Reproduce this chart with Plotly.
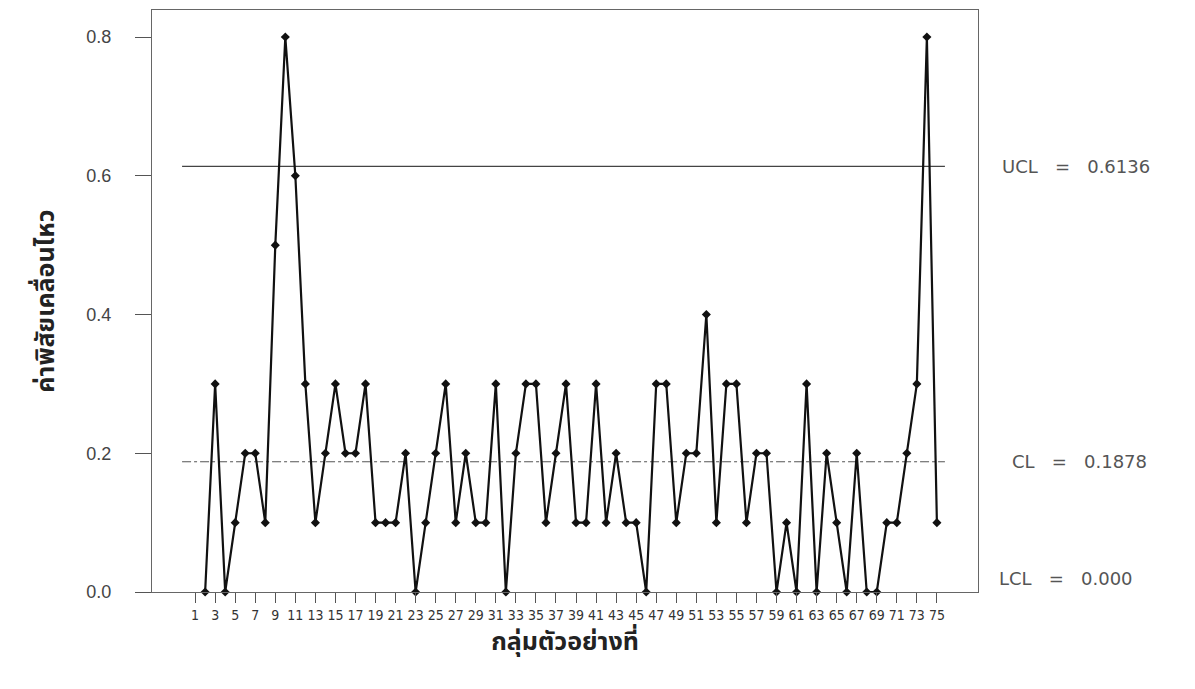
import plotly.graph_objects as go

# Moving range values, subgroups 2..75
samples = list(range(2, 76))
moving_range = [
    0.0, 0.3, 0.0, 0.1, 0.2, 0.2, 0.1, 0.5, 0.8, 0.6, 0.3, 0.1, 0.2, 0.3, 0.2, 0.2,
    0.3, 0.1, 0.1, 0.1, 0.2, 0.0, 0.1, 0.2,
    0.3, 0.1, 0.2, 0.1, 0.1, 0.3, 0.0, 0.2, 0.3, 0.3, 0.1, 0.2, 0.3, 0.1, 0.1, 0.3,
    0.1, 0.2, 0.1, 0.1, 0.0, 0.3, 0.3, 0.1, 0.2, 0.2,
    0.4, 0.1, 0.3, 0.3, 0.1, 0.2, 0.2, 0.0, 0.1, 0.0, 0.3, 0.0, 0.2, 0.1, 0.0, 0.2,
    0.0, 0.0, 0.1, 0.1, 0.2, 0.3, 0.8, 0.1,
]
UCL = 0.6136
CL = 0.1878
LCL = 0.000
line_x = [-0.3, 75.8]
x_ticks = list(range(1, 76, 2))
y_ticks = [0.0, 0.2, 0.4, 0.6, 0.8]

fig = go.Figure()
fig.add_trace(go.Scatter(x=line_x, y=[UCL, UCL], mode="lines",
                         line=dict(color="#444", width=1.2), hoverinfo="skip"))
fig.add_trace(go.Scatter(x=line_x, y=[CL, CL], mode="lines",
                         line=dict(color="#555", width=1.2, dash="dashdot"), hoverinfo="skip"))
fig.add_trace(go.Scatter(x=samples, y=moving_range, mode="lines+markers",
                         line=dict(color="#111", width=2.2),
                         marker=dict(symbol="diamond", size=7, color="#111"),
                         cliponaxis=False))

thai = "Noto Sans Thai, Noto Sans Thai Looped, Loma, Garuda, Tlwg Typo, sans-serif"
ann_font = dict(family="DejaVu Sans, Arial, sans-serif", size=18, color="#555")
labels = [("UCL   =   %.4f" % UCL, UCL, 1.027),
          ("CL   =   %.4f" % CL, CL, 1.039),
          ("LCL   =   %.3f" % LCL, LCL + 0.02, 1.023)]
for txt, yv, xp in labels:
    fig.add_annotation(x=xp, xref="paper", y=yv, yref="y", text=txt,
                       showarrow=False, xanchor="left", font=ann_font)

pad = "<span style='color:rgba(0,0,0,0)'>00</span>"

fig.update_layout(
    width=1195, height=689,
    margin=dict(l=144, r=225, t=2, b=105),
    paper_bgcolor="white", plot_bgcolor="white",
    showlegend=False,
    font=dict(family="Arial, Liberation Sans, sans-serif", color="#333"),
    xaxis=dict(range=[-3.3, 79.1], tickvals=x_ticks, ticktext=[str(v) for v in x_ticks],
               ticks="outside", ticklen=10, tickcolor="#555", tickangle=0,
               tickfont=dict(family="Liberation Sans Narrow, Arial Narrow, DejaVu Sans Condensed, sans-serif",
                             size=14, color="#333"),
               showline=True, linecolor="#666", linewidth=1.2, mirror=True,
               showgrid=False, zeroline=False,
               title=dict(text="<b>กลุ่มตัวอย่างที่</b>", font=dict(family=thai, size=25, color="#222"), standoff=4)),
    yaxis=dict(range=[0, 0.839], tickvals=y_ticks, ticktext=["%.1f%s" % (v, pad) for v in y_ticks],
               ticks="outside", ticklen=16, tickcolor="#555", tickfont=dict(size=18, color="#444"),
               showline=True, linecolor="#666", linewidth=1.2, mirror=True,
               showgrid=False, zeroline=False,
               title=dict(text="<b>ค่าพิสัยเคลื่อนไหว</b>", font=dict(family=thai, size=25, color="#222"), standoff=24)),
)

fig.write_html("out.html")
